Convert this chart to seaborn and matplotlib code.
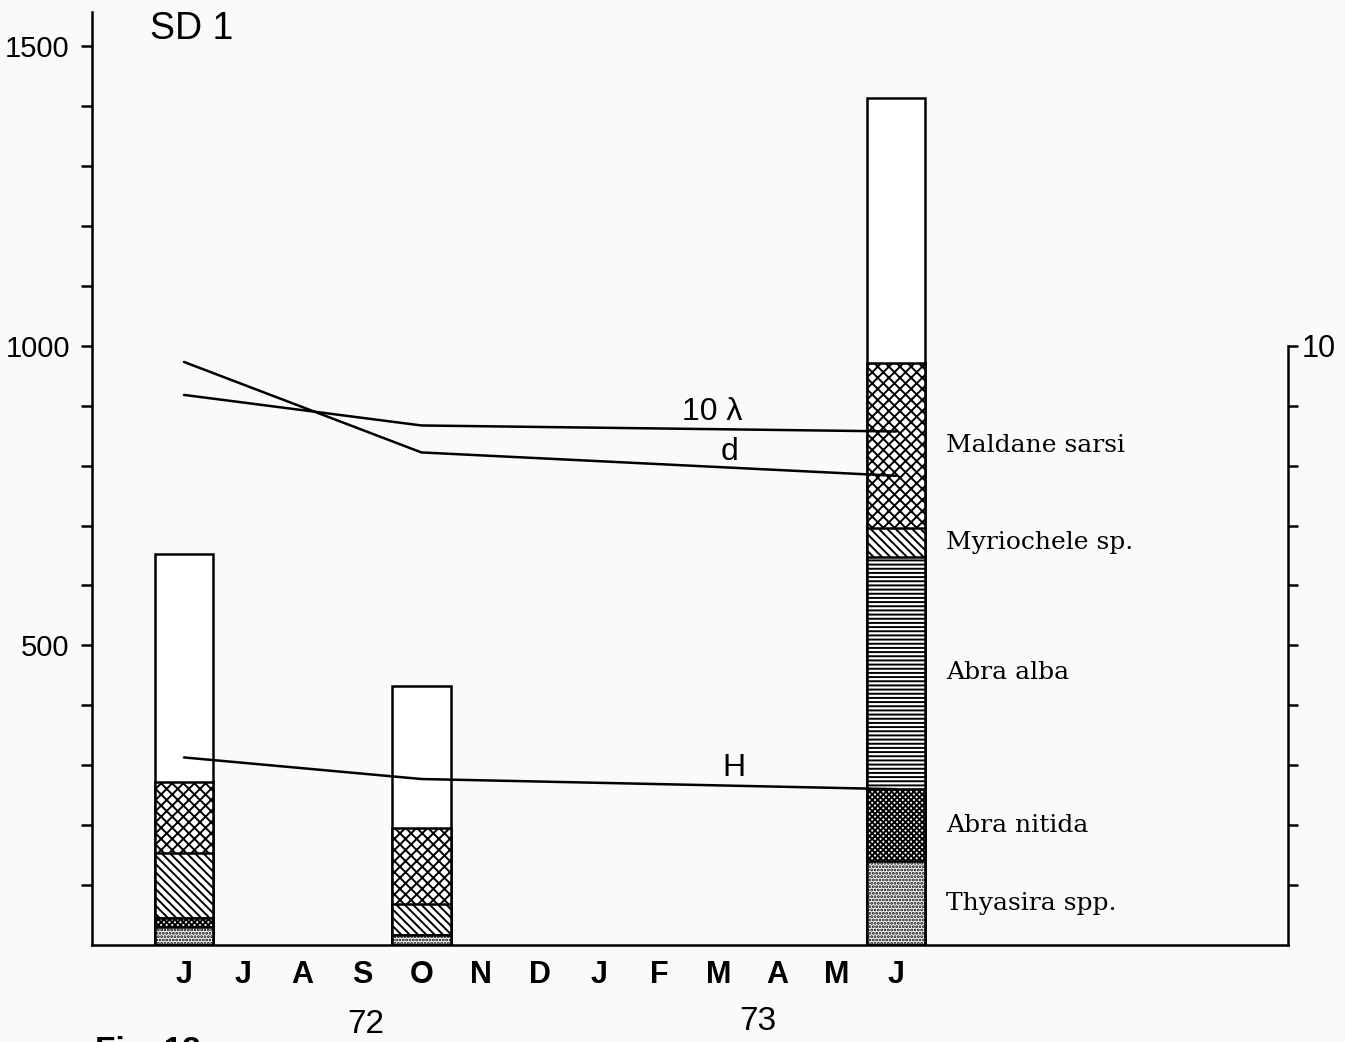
import numpy as np
import pandas as pd
import matplotlib
matplotlib.use("Agg")
import matplotlib.pyplot as plt
import matplotlib.transforms as mtransforms
from matplotlib import font_manager
import seaborn as sns

# ---- data -------------------------------------------------------------
months = ["J", "J", "A", "S", "O", "N", "D", "J", "F", "M", "A", "M", "J"]
sample_month = [0, 4, 12]          # June 72, October 72, June 73

# individuals per sample, stacked from the bottom up
thyasira = [30, 17, 140]
abra_nitida = [15, 0, 120]
abra_alba = [0, 0, 388]
myriochele = [108, 51, 48]
maldane = [119, 127, 276]
other = [381, 238, 442]

species_labels = ["Thyasira spp.", "Abra nitida", "Abra alba",
                  "Myriochele sp.", "Maldane sarsi"]

# diversity indices (right-hand scale)
line_month = [0, 4, 12]
lambda10 = [9.18, 8.67, 8.57]
d_index = [9.73, 8.22, 7.83]
h_index = [3.13, 2.77, 2.60]

year_labels = ["72", "73"]
year_pos = [3.07, 9.66]

# ---- style ------------------------------------------------------------
sns.set_theme(style="white")
names = {f.name for f in font_manager.fontManager.ttflist}
narrow = "Liberation Sans Narrow" if "Liberation Sans Narrow" in names else "Liberation Sans"
plt.rcParams["font.family"] = [narrow, "DejaVu Sans"]
plt.rcParams["hatch.linewidth"] = 1.4
plt.rcParams["hatch.color"] = "black"
plt.rcParams["text.color"] = "black"
serif = ["DejaVu Serif"]

W, H = 1345, 1042
fig = plt.figure(figsize=(W / 100, H / 100), dpi=100, facecolor="#fafafa")
ax = fig.add_axes([92 / W, 1 - 945 / H, (1288 - 92) / W, (945 - 12) / H])
ax.set_facecolor("none")

LW = 1.8
layers = [thyasira, abra_nitida, abra_alba, myriochele, maldane, other]
hatches = [".....", "xxxxxx", "----", "\\\\\\\\", "xxx", ""]
cum = np.cumsum(np.array(layers), axis=0)

# draw cumulative bars from the tallest down so each segment overlays the one above
for i in reversed(range(len(layers))):
    df = pd.DataFrame({"month": sample_month, "count": cum[i]})
    sns.barplot(data=df, x="month", y="count", native_scale=True, width=0.245,
                errorbar=None, color="white", saturation=1, edgecolor="black",
                linewidth=LW, hatch=hatches[i], ax=ax)

ax.set_xlim(-1.55, 18.6)
ax.set_ylim(0, 1557)
ax.set_xlabel("")
ax.set_ylabel("")

yt = np.arange(100, 1501, 100)
ax.set_yticks(yt)
ax.set_yticklabels([str(v) if v % 500 == 0 else "" for v in yt])
ax.tick_params(axis="y", direction="out", length=8, width=LW, labelsize=21,
               pad=8, left=True, colors="black")
ax.set_xticks(range(len(months)))
ax.set_xticklabels(months, fontsize=22, fontweight="bold")
ax.tick_params(axis="x", length=0, pad=11, colors="black")

for s in ("top", "right"):
    ax.spines[s].set_visible(False)
for s in ("left", "bottom"):
    ax.spines[s].set_linewidth(LW)
    ax.spines[s].set_color("black")

# ---- index lines on the right-hand scale --------------------------------
ax2 = ax.twinx()
ax2.set_ylim(0, 15.57)
for vals in (lambda10, d_index, h_index):
    sns.lineplot(x=line_month, y=vals, color="black", linewidth=LW, ax=ax2)
ax2.set_ylabel("")
ax2.set_yticks(range(1, 11))
ax2.set_yticklabels(["" if v < 10 else "10" for v in range(1, 11)])
ax2.tick_params(axis="y", direction="out", length=7, width=LW, labelsize=22,
                pad=3, right=True, colors="black")
for s in ("top", "left", "bottom"):
    ax2.spines[s].set_visible(False)
ax2.spines["right"].set_bounds(0, 10)
ax2.spines["right"].set_linewidth(LW)
ax2.spines["right"].set_color("black")

ax2.text(8.90, 8.90, "10 λ", fontsize=23, ha="center", va="center")
ax2.text(9.19, 8.22, "d", fontsize=23, ha="center", va="center")
ax2.text(9.27, 2.95, "H", fontsize=23, ha="center", va="center")

# ---- species labels beside the last bar --------------------------------
last = cum[:, -1]
bottoms = np.concatenate([[0], last[:-1]])
for i, name in enumerate(species_labels):
    mid = (bottoms[i] + last[i]) / 2
    ax.text(12.84, mid, name, family=serif, fontsize=18, ha="left", va="center")

# ---- titles and year labels ----------------------------------------------
blend = mtransforms.blended_transform_factory(ax.transData, ax.transAxes)
for lab, xp, yp in zip(year_labels, year_pos, [-0.0857, -0.0825]):
    ax.text(xp, yp, lab, transform=blend, fontsize=24, ha="center", va="center")

fig.text(150 / W, 1 - 11 / H, "SD 1", fontsize=27, ha="left", va="top")
fig.text(95 / W, 1 - 1036 / H, "Fig. 12", fontsize=24, fontweight="bold",
         ha="left", va="top")

fig.savefig("out.png", dpi=100, facecolor=fig.get_facecolor())
